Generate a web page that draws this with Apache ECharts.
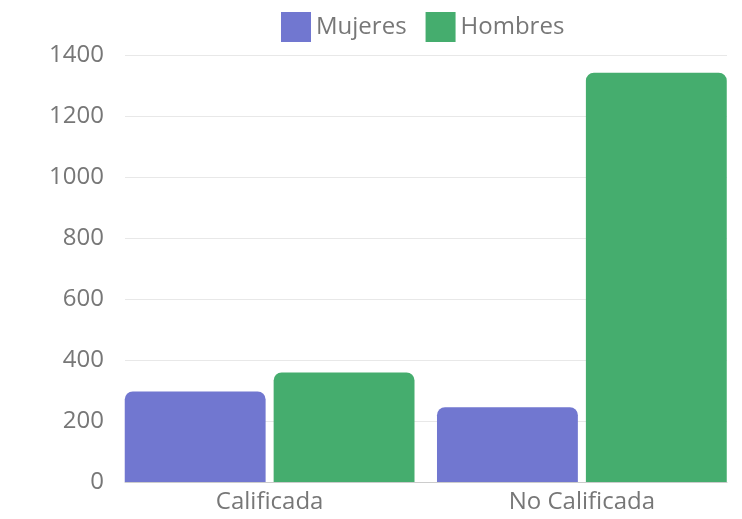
<!DOCTYPE html>
<html>
<head>
<meta charset="utf-8">
<script src="https://cdn.jsdelivr.net/npm/echarts@6/dist/echarts.min.js"></script>
<style>
  html, body { margin: 0; padding: 0; background: #fff; }
  #chart { width: 742px; height: 519px; }
</style>
</head>
<body>
<div id="chart"></div>
<script>
// Workforce by qualification and sex
const categories = ['Calificada', 'No Calificada'];
const mujeres = [297, 245];
const hombres = [359, 1342];
const yTicks = { min: 0, max: 1400, interval: 200 };

const FONT = '"Open Sans", Lato, sans-serif';
const TEXT = '#777777';

const chart = echarts.init(document.getElementById('chart'), null, { renderer: 'canvas' });
chart.setOption({
  animation: false,
  textStyle: { fontFamily: FONT },
  legend: {
    left: 281,
    top: 12,
    padding: 0,
    icon: 'rect',
    itemWidth: 30,
    itemHeight: 30,
    itemGap: 19,
    textStyle: { color: TEXT, fontSize: 24, fontFamily: FONT },
    data: ['Mujeres', 'Hombres']
  },
  grid: [
    // value scale, gridlines and baseline
    { left: 125, right: 15, top: 55, bottom: 37, containLabel: false },
    // bars and category labels
    { left: 113.5, right: 4, top: 55, bottom: 37, containLabel: false }
  ],
  xAxis: [
    {
      gridIndex: 0,
      type: 'category',
      data: categories,
      axisTick: { show: false },
      axisLabel: { show: false },
      axisLine: { lineStyle: { color: '#cccccc' } }
    },
    {
      gridIndex: 1,
      type: 'category',
      data: categories,
      axisTick: { show: false },
      axisLine: { show: false },
      axisLabel: { color: TEXT, fontSize: 24, fontFamily: FONT, margin: 8 }
    }
  ],
  yAxis: [
    {
      gridIndex: 0,
      type: 'value',
      min: yTicks.min,
      max: yTicks.max,
      interval: yTicks.interval,
      axisLine: { show: false },
      axisTick: { show: false },
      splitLine: { lineStyle: { color: '#e8e8e8' } },
      axisLabel: {
        color: TEXT, fontSize: 24, fontFamily: FONT, margin: 21,
        formatter: v => String(v)
      }
    },
    {
      gridIndex: 1,
      type: 'value',
      min: yTicks.min,
      max: yTicks.max,
      interval: yTicks.interval,
      show: false,
      splitLine: { show: false }
    }
  ],
  series: [
    {
      name: 'Mujeres',
      type: 'bar',
      xAxisIndex: 1,
      yAxisIndex: 1,
      data: mujeres,
      barCategoryGap: '7.2%',
      barGap: '5.7%',
      itemStyle: { color: '#7177d0', borderRadius: [8, 8, 0, 0] }
    },
    {
      name: 'Hombres',
      type: 'bar',
      xAxisIndex: 1,
      yAxisIndex: 1,
      data: hombres,
      barCategoryGap: '7.2%',
      barGap: '5.7%',
      itemStyle: { color: '#45ad6e', borderRadius: [8, 8, 0, 0] }
    }
  ]
});
</script>
</body>
</html>
